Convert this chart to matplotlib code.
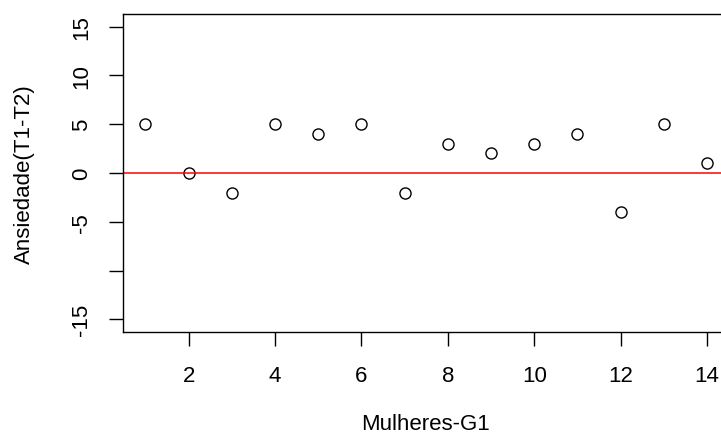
import matplotlib
matplotlib.use("Agg")
import matplotlib.pyplot as plt

# Anxiety difference (T1-T2) for each woman in group G1
women = [1, 2, 3, 4, 5, 6, 7, 8, 9, 10, 11, 12, 13, 14]
anx_diff = [5, 0, -2, 5, 4, 5, -2, 3, 2, 3, 4, -4, 5, 1]

xticks = [2, 4, 6, 8, 10, 12, 14]
yticks = [-15, -10, -5, 0, 5, 10, 15]
ytick_labels = ["-15", "", "-5", "0", "5", "10", "15"]

plt.rcParams["font.family"] = ["Liberation Sans", "DejaVu Sans"]
plt.rcParams["font.size"] = 16

fig = plt.figure(figsize=(7.21, 4.35), dpi=100)
ax = fig.add_axes([0.1706, 0.2345, 0.8412, 0.731])

ax.plot(women, anx_diff, linestyle="none", marker="o", markersize=8,
        markerfacecolor="none", markeredgecolor="black", markeredgewidth=1.0)
ax.axhline(0, color="red", linewidth=1.1)

ax.set_xlim(0.48, 14.52)
ax.set_ylim(-16.3, 16.3)
ax.set_xticks(xticks)
ax.set_yticks(yticks)
ax.set_yticklabels(ytick_labels, rotation=90, va="center")

ax.tick_params(direction="out", length=10, width=1.0, colors="black")
ax.tick_params(axis="x", pad=14)
ax.tick_params(axis="y", pad=12)
for s in ax.spines.values():
    s.set_linewidth(1.0)
ax.spines["right"].set_visible(False)

fig.text(426 / 721, 1 - 425 / 435, "Mulheres-G1", ha="center", va="center")
fig.text(24 / 721, 1 - 174 / 435, "Ansiedade(T1-T2)", ha="center",
         va="center", rotation=90)

fig.savefig("out.png", dpi=100)
